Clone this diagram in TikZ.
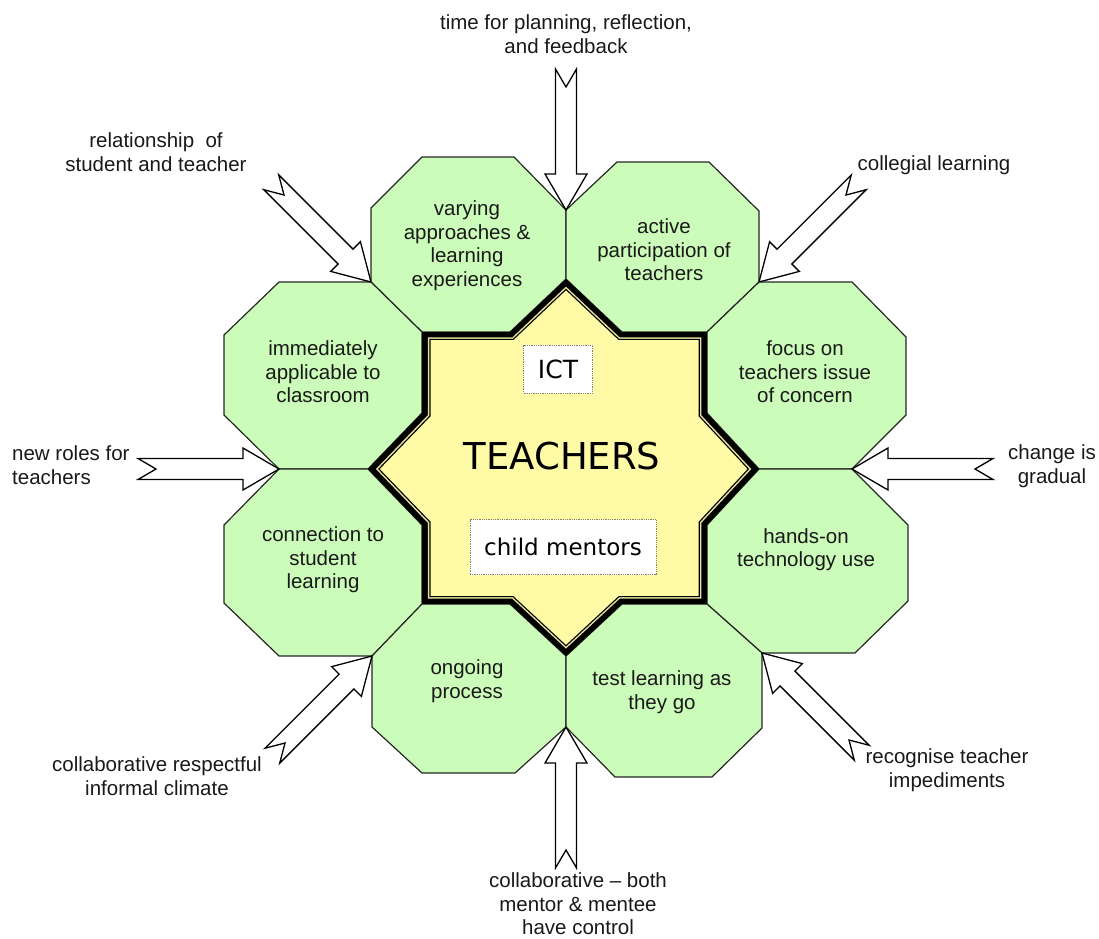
\documentclass[tikz,border=0pt]{standalone}
\usepackage{fontspec}
\setmainfont{Liberation Sans}
\newfontfamily\comicfont{DejaVu Sans}

\definecolor{octgreen}{RGB}{204,252,185}
\definecolor{staryellow}{RGB}{255,250,165}
\definecolor{starband}{RGB}{228,224,160}

% eight-pointed star, relative to its centre
\def\teacherstar{(0,-190) -- (56,-137) -- (141,-137) -- (141,-56) -- (193,0) -- (141,56) -- (141,135) -- (56,135) -- (0,187) -- (-56,135) -- (-144,135) -- (-144,56) -- (-198,0) -- (-144,-56) -- (-144,-137) -- (-56,-137) -- cycle}

\tikzset{
  octa/.style={fill=octgreen, draw=black!85, line width=1.2pt, line join=miter},
  lbl/.style={align=center, text=black!90, font=\fontsize{20.5}{23.5}\selectfont, inner sep=0pt},
  mentorbox/.style={draw=black!50, densely dotted, fill=white, line width=0.8pt},
  blockarrow/.pic={
    \draw[fill=white, line width=1.3pt, line join=miter]
      (0,0) -- (-36,21) -- (-36,10.5) -- (-141,10.5) -- (-123,0)
      -- (-141,-10.5) -- (-36,-10.5) -- (-36,-21) -- cycle;
  }
}

\begin{document}
\begin{tikzpicture}[x=1pt, y=-1pt]

\useasboundingbox (0,0) rectangle (1099,938);

% ---- Octagons ----
\draw[octa] (422,157) -- (514,157) -- (566,210) -- (566,279) -- (510,332) -- (422,332) -- (371,282) -- (371,208) -- cycle;
\draw[octa] (617,162) -- (709,162) -- (759,211) -- (759,282) -- (707,332) -- (622,332) -- (566,279) -- (566,210) -- cycle;
\draw[octa] (279,282) -- (371,282) -- (422,332) -- (422,413) -- (368,469) -- (279,469) -- (224,415) -- (224,335) -- cycle;
\draw[octa] (279,469) -- (368,469) -- (422,525) -- (422,604) -- (372,656) -- (279,656) -- (224,603) -- (224,525) -- cycle;
\draw[octa] (759,282) -- (852,282) -- (906,337) -- (906,415) -- (852,469) -- (759,469) -- (707,413) -- (707,332) -- cycle;
\draw[octa] (759,469) -- (852,469) -- (908,525) -- (908,601) -- (855,653) -- (762,653) -- (707,604) -- (707,525) -- cycle;
\draw[octa] (422,604) -- (510,604) -- (566,656) -- (566,727) -- (515,773) -- (422,773) -- (372,727) -- (372,656) -- cycle;
\draw[octa] (622,604) -- (707,604) -- (762,653) -- (762,728) -- (712,777) -- (615,777) -- (566,727) -- (566,656) -- cycle;

\node[lbl] (varying)    at (467,245.5) {varying\\approaches \&\\learning\\experiences};
\node[lbl] (active)     at (664,250)   {active\\participation of\\teachers};
\node[lbl] (immediate)  at (323,372)   {immediately\\applicable to\\classroom};
\node[lbl] (connection) at (323,560)   {connection to\\student\\learning};
\node[lbl] (focus)      at (805,372)   {focus on\\teachers issue\\of concern};
\node[lbl] (handson)    at (806,549.5) {hands-on\\technology use};
\node[lbl] (ongoing)    at (467,681)   {ongoing\\process};
\node[lbl] (testlearn)  at (662,692)   {test learning as\\they go};

% ---- Centre star ----
\begin{scope}[shift={(566,469)}]
  \foreach \s/\c in {1/black, 0.960/starband, 0.949/black, 0.940/staryellow}
    \fill[\c, scale=\s] \teacherstar;
\end{scope}

\node[mentorbox, minimum width=69, minimum height=48] (ict) at (558,369) {\comicfont\fontsize{25}{25}\selectfont ICT};
\node[font=\comicfont\fontsize{37}{37}\selectfont] (teachers) at (562,456) {TEACHERS};
\node[mentorbox, minimum width=186, minimum height=55] (mentors) at (563,547) {\comicfont\fontsize{23}{23}\selectfont child mentors};

% ---- Outer influences ----
\node[lbl] (planning) at (566,34)  {time for planning, reflection,\\and feedback};
\node[lbl] (relation) at (156,152) {relationship~ of\\student and teacher};
\node[lbl] (collegial) at (934,165) {collegial learning};
\node[lbl, align=left, anchor=west] (newroles) at (12,465) {new roles for\\teachers};
\node[lbl] (gradual) at (1052,466) {change is\\gradual};
\node[lbl] (climate) at (157,776) {collaborative respectful\\informal climate};
\node[lbl] (impediments) at (947,770) {recognise teacher\\impediments};
\node[lbl] (control) at (578,904) {collaborative -- both\\mentor \& mentee\\have control};

% arrow tips sit where two octagons meet
\coordinate (tipTop) at (566,210);
\coordinate (tipUL)  at (371,282);
\coordinate (tipUR)  at (759,282);
\coordinate (tipL)   at (279,469);
\coordinate (tipR)   at (852,469);
\coordinate (tipLL)  at (372,656);
\coordinate (tipLR)  at (762,653);
\coordinate (tipBot) at (566,727);

\foreach \tip/\ang in {tipTop/-90, tipUL/-45, tipUR/-135, tipL/0, tipR/180, tipLL/45, tipLR/135, tipBot/90}
  \pic[rotate=\ang] at (\tip) {blockarrow};

\end{tikzpicture}
\end{document}
